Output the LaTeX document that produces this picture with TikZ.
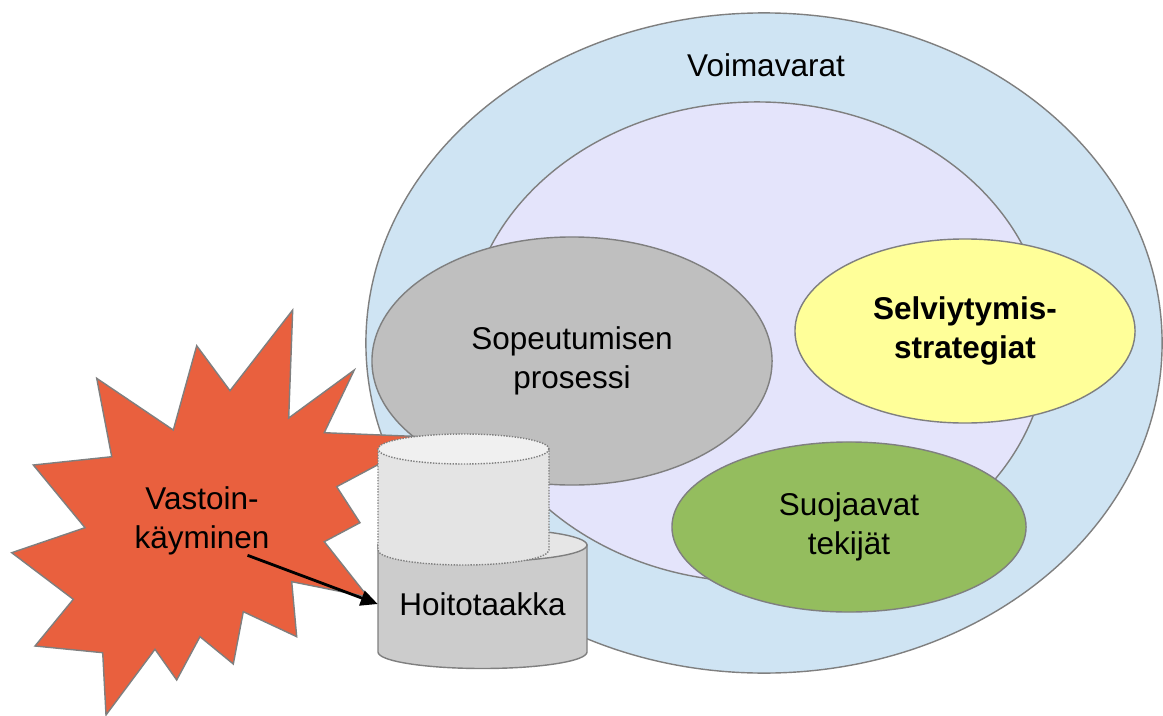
\documentclass[tikz,border=0pt]{standalone}
\usepackage{fontspec}
\setmainfont{Liberation Sans}
\usetikzlibrary{arrows.meta,positioning,shapes.geometric}
\definecolor{outerblue}{HTML}{CFE4F3}
\definecolor{innerlav}{HTML}{E4E4FB}
\definecolor{procgray}{HTML}{BFBFBF}
\definecolor{stratyellow}{HTML}{FFFF99}
\definecolor{protgreen}{HTML}{94BD5E}
\definecolor{burstorange}{HTML}{E9603E}
\definecolor{edgegray}{HTML}{7F7F7F}
\definecolor{loadgray}{HTML}{CCCCCC}
\definecolor{loadtop}{HTML}{E6E6E6}
\definecolor{ghostgray}{HTML}{E4E4E4}
\definecolor{ghosttop}{HTML}{F0F0F0}

\begin{document}
\begin{tikzpicture}[
      x=0.025cm, y=-0.025cm,
      >={Triangle[length=12pt,width=11pt]},
      bubble/.style={ellipse,draw=edgegray,line width=1pt,inner sep=0pt,align=center,font=\fontsize{22.4}{27.5}\selectfont},
      txt/.style={font=\fontsize{22.4}{27.5}\selectfont,align=center,inner sep=0pt},
      cylbody/.style={draw=edgegray,line width=1pt},
      ghost/.style={draw=edgegray,line width=1pt,densely dotted}
    ]
    \useasboundingbox (0,0) rectangle (1163,716);

    \node[bubble,fill=outerblue,minimum width=19.9cm,minimum height=16.5cm] (outer) at (764,343) {};
    \node[txt] (voima) at (766,65) {Voimavarat};
    \node[bubble,fill=innerlav,minimum width=14.5cm,minimum height=12cm] (inner) at (757,342) {};
    \node[bubble,fill=procgray,minimum width=10cm,minimum height=6.2cm] (process) at (572,361) {Sopeutumisen\\prosessi};
    \node[bubble,fill=stratyellow,minimum width=8.5cm,minimum height=4.6cm,font=\fontsize{22.4}{27.5}\selectfont\bfseries] (strat) at (965,331) {Selviytymis-\\strategiat};
    \node[bubble,fill=protgreen,minimum width=8.85cm,minimum height=4.25cm] (protect) at (849,527) {Suojaavat\\tekijät};

    % adversity burst
    \draw[draw=edgegray,line width=1pt,fill=burstorange,line join=miter]
      (430,437) -- (336.7,486.7) -- (360,522.7) -- (324.3,541.7) -- (368,597)
      -- (291.7,581.7) -- (296.7,636.7) -- (243.3,611.7) -- (233.3,664)
      -- (200,636.7) -- (176.7,680) -- (155,649.3) -- (106,715) -- (102.7,652.7)
      -- (35,646) -- (73.3,599.3) -- (11.7,552.7) -- (85,527.7) -- (33.3,465)
      -- (111.7,456.7) -- (96.7,378.3) -- (173.3,430) -- (196.7,345.7)
      -- (230,390.7) -- (292.7,310) -- (288.7,418) -- (354.3,370) -- (324.3,432.7) -- cycle;
    \node[txt] (vastoin) at (202,521) {Vastoin-\\käyminen};

    % care load cylinder
    \draw[cylbody,fill=loadgray] (378,545) -- (378,652)
      arc[start angle=180,end angle=0,x radius=104.5,y radius=16.5] -- (587,545) -- cycle;
    \draw[cylbody,fill=loadtop] (482.5,545) ellipse[x radius=104.5,y radius=16.5];
    \draw[ghost,fill=ghostgray] (378,449) -- (378,550)
      arc[start angle=180,end angle=0,x radius=85.5,y radius=15] -- (549,449) -- cycle;
    \draw[ghost,fill=ghosttop] (463.5,449) ellipse[x radius=85.5,y radius=15];
    \node[txt,minimum width=5.225cm] (hoito) at (482.5,604) {Hoitotaakka};

    \draw[->,line width=2pt] (vastoin.-37) -- (hoito.west);
  \end{tikzpicture}
\end{document}
